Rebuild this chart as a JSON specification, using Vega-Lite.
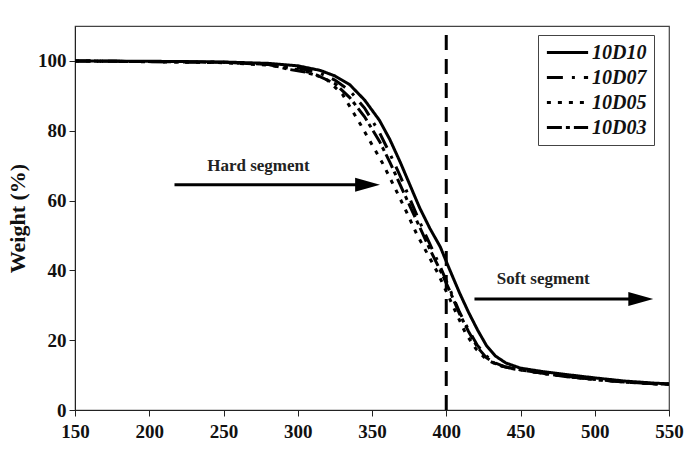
{
  "$schema": "https://vega.github.io/schema/vega-lite/v6.json",
  "width": 594,
  "height": 384,
  "autosize": "none",
  "padding": {"left": 75, "top": 26, "right": 23, "bottom": 39},
  "background": "white",
  "config": {
    "view": {"stroke": "#444", "strokeWidth": 1.2},
    "font": "Liberation Serif",
    "axis": {
      "labelFont": "Liberation Serif", "labelFontWeight": "bold", "labelFontSize": 19, "labelColor": "#111",
      "titleFont": "Liberation Serif", "titleFontWeight": "bold", "titleFontSize": 22, "titleColor": "#111",
      "domainColor": "#222", "tickColor": "#222", "grid": false
    }
  },
  "datasets": {
    "curves": [
      {"s": "10D10", "x": 150, "y": 100}, {"s": "10D10", "x": 200, "y": 99.9}, {"s": "10D10", "x": 250, "y": 99.7}, {"s": "10D10", "x": 280, "y": 99.3}, {"s": "10D10", "x": 300, "y": 98.6}, {"s": "10D10", "x": 315, "y": 97.3}, {"s": "10D10", "x": 325, "y": 95.7}, {"s": "10D10", "x": 335, "y": 93.2}, {"s": "10D10", "x": 345, "y": 88.8}, {"s": "10D10", "x": 355, "y": 83}, {"s": "10D10", "x": 362, "y": 77.5}, {"s": "10D10", "x": 369, "y": 71}, {"s": "10D10", "x": 376, "y": 64}, {"s": "10D10", "x": 382, "y": 58}, {"s": "10D10", "x": 389, "y": 52}, {"s": "10D10", "x": 396, "y": 46.7}, {"s": "10D10", "x": 402, "y": 40.5}, {"s": "10D10", "x": 409, "y": 33.5}, {"s": "10D10", "x": 415, "y": 28}, {"s": "10D10", "x": 421, "y": 23}, {"s": "10D10", "x": 427, "y": 18.5}, {"s": "10D10", "x": 433, "y": 15.5}, {"s": "10D10", "x": 440, "y": 13.5}, {"s": "10D10", "x": 450, "y": 12}, {"s": "10D10", "x": 465, "y": 11}, {"s": "10D10", "x": 480, "y": 10.2}, {"s": "10D10", "x": 500, "y": 9.2}, {"s": "10D10", "x": 520, "y": 8.3}, {"s": "10D10", "x": 540, "y": 7.7}, {"s": "10D10", "x": 550, "y": 7.5},
      {"s": "10D07", "x": 150, "y": 100}, {"s": "10D07", "x": 250, "y": 99.6}, {"s": "10D07", "x": 280, "y": 99}, {"s": "10D07", "x": 300, "y": 98}, {"s": "10D07", "x": 315, "y": 96.5}, {"s": "10D07", "x": 325, "y": 94.5}, {"s": "10D07", "x": 335, "y": 91.5}, {"s": "10D07", "x": 345, "y": 86.5}, {"s": "10D07", "x": 355, "y": 79.5}, {"s": "10D07", "x": 362, "y": 73.5}, {"s": "10D07", "x": 369, "y": 67}, {"s": "10D07", "x": 376, "y": 60}, {"s": "10D07", "x": 382, "y": 54}, {"s": "10D07", "x": 389, "y": 47.5}, {"s": "10D07", "x": 396, "y": 41}, {"s": "10D07", "x": 402, "y": 35}, {"s": "10D07", "x": 409, "y": 28}, {"s": "10D07", "x": 415, "y": 23}, {"s": "10D07", "x": 421, "y": 18.5}, {"s": "10D07", "x": 427, "y": 15.5}, {"s": "10D07", "x": 433, "y": 13.5}, {"s": "10D07", "x": 440, "y": 12.3}, {"s": "10D07", "x": 450, "y": 11.5}, {"s": "10D07", "x": 465, "y": 10.5}, {"s": "10D07", "x": 480, "y": 9.7}, {"s": "10D07", "x": 500, "y": 8.8}, {"s": "10D07", "x": 520, "y": 8.0}, {"s": "10D07", "x": 540, "y": 7.5}, {"s": "10D07", "x": 550, "y": 7.4},
      {"s": "10D05", "x": 150, "y": 100}, {"s": "10D05", "x": 250, "y": 99.5}, {"s": "10D05", "x": 280, "y": 98.8}, {"s": "10D05", "x": 300, "y": 97.5}, {"s": "10D05", "x": 310, "y": 96.5}, {"s": "10D05", "x": 320, "y": 94.5}, {"s": "10D05", "x": 330, "y": 90.5}, {"s": "10D05", "x": 342, "y": 82}, {"s": "10D05", "x": 350, "y": 76}, {"s": "10D05", "x": 357, "y": 70.8}, {"s": "10D05", "x": 365, "y": 64}, {"s": "10D05", "x": 373.5, "y": 56.5}, {"s": "10D05", "x": 380, "y": 50.5}, {"s": "10D05", "x": 387, "y": 45}, {"s": "10D05", "x": 394, "y": 39.5}, {"s": "10D05", "x": 400, "y": 34}, {"s": "10D05", "x": 407, "y": 27.5}, {"s": "10D05", "x": 413, "y": 22}, {"s": "10D05", "x": 420, "y": 17.5}, {"s": "10D05", "x": 427, "y": 14.5}, {"s": "10D05", "x": 435, "y": 12.8}, {"s": "10D05", "x": 445, "y": 11.8}, {"s": "10D05", "x": 460, "y": 10.8}, {"s": "10D05", "x": 480, "y": 9.6}, {"s": "10D05", "x": 500, "y": 8.7}, {"s": "10D05", "x": 520, "y": 8.0}, {"s": "10D05", "x": 540, "y": 7.5}, {"s": "10D05", "x": 550, "y": 7.4},
      {"s": "10D03", "x": 150, "y": 100}, {"s": "10D03", "x": 250, "y": 99.6}, {"s": "10D03", "x": 280, "y": 99}, {"s": "10D03", "x": 295, "y": 97.5}, {"s": "10D03", "x": 305, "y": 96.8}, {"s": "10D03", "x": 315, "y": 95.5}, {"s": "10D03", "x": 325, "y": 93.5}, {"s": "10D03", "x": 335, "y": 89.5}, {"s": "10D03", "x": 345, "y": 84}, {"s": "10D03", "x": 355, "y": 77}, {"s": "10D03", "x": 362, "y": 71}, {"s": "10D03", "x": 369, "y": 64.5}, {"s": "10D03", "x": 376, "y": 58}, {"s": "10D03", "x": 382, "y": 52.5}, {"s": "10D03", "x": 389, "y": 46}, {"s": "10D03", "x": 396, "y": 40}, {"s": "10D03", "x": 402, "y": 34.5}, {"s": "10D03", "x": 409, "y": 27.5}, {"s": "10D03", "x": 415, "y": 22.5}, {"s": "10D03", "x": 421, "y": 18}, {"s": "10D03", "x": 427, "y": 15}, {"s": "10D03", "x": 433, "y": 13.3}, {"s": "10D03", "x": 440, "y": 12.3}, {"s": "10D03", "x": 450, "y": 11.5}, {"s": "10D03", "x": 465, "y": 10.5}, {"s": "10D03", "x": 480, "y": 9.6}, {"s": "10D03", "x": 500, "y": 8.8}, {"s": "10D03", "x": 520, "y": 8.0}, {"s": "10D03", "x": 540, "y": 7.5}, {"s": "10D03", "x": 550, "y": 7.4}
    ],
    "arrows": [
      {"x": 217, "x2": 348, "y": 64.5, "hx": 347},
      {"x": 419, "x2": 532, "y": 31.8, "hx": 531}
    ],
    "labels": [
      {"x": 239, "y": 70, "t": "Hard segment"},
      {"x": 434, "y": 37.5, "t": "Soft segment"}
    ],
    "vline": [{"x": 400, "y": 0, "y2": 110}]
  },
  "layer": [
    {
      "data": {"name": "curves"},
      "mark": {"type": "line", "color": "black", "strokeWidth": 3, "clip": true},
      "encoding": {
        "x": {"field": "x", "type": "quantitative", "scale": {"domain": [150, 550], "nice": false, "zero": false},
          "axis": {"title": null, "values": [150,175,200,225,250,275,300,325,350,375,400,425,450,475,500,525,550],
            "labelExpr": "datum.value % 50 === 0 ? datum.label : ''",
            "tickSize": {"condition": {"test": "datum.value % 50 !== 0", "value": 3}, "value": 6},
            "labelPadding": 6, "labelFlush": false}},
        "y": {"field": "y", "type": "quantitative", "scale": {"domain": [0, 110], "nice": false},
          "axis": {"title": "Weight (%)", "values": [0,10,20,30,40,50,60,70,80,90,100],
            "labelExpr": "datum.value % 20 === 0 ? datum.label : ''",
            "tickSize": {"condition": {"test": "datum.value % 20 !== 0", "value": 3}, "value": 6},
            "labelPadding": 3, "titlePadding": 8}},
        "strokeDash": {"field": "s", "type": "nominal",
          "scale": {"domain": ["10D10", "10D07", "10D05", "10D03"], "range": [[1, 0], [16, 9, 3, 9], [4, 7], [15, 4, 4, 4]]},
          "legend": {"title": null, "orient": "none", "legendX": 463, "legendY": 9,
            "strokeColor": "#444", "padding": 7, "symbolType": "stroke", "symbolSize": 1700,
            "symbolStrokeColor": "black", "symbolStrokeWidth": 3, "clipHeight": 21, "rowPadding": 4,
            "labelFont": "Liberation Serif", "labelFontSize": 20, "labelFontStyle": "italic", "labelFontWeight": "bold",
            "labelColor": "#111", "labelOffset": 2, "symbolOffset": 0}},
        "detail": {"field": "s"}
      }
    },
    {
      "data": {"name": "vline"},
      "mark": {"type": "rule", "color": "black", "strokeWidth": 3, "strokeDash": [15, 9]},
      "encoding": {"x": {"field": "x", "type": "quantitative"}, "y": {"field": "y", "type": "quantitative"}, "y2": {"field": "y2"}}
    },
    {
      "data": {"name": "arrows"},
      "mark": {"type": "rule", "color": "black", "strokeWidth": 3},
      "encoding": {"x": {"field": "x", "type": "quantitative"}, "x2": {"field": "x2"}, "y": {"field": "y", "type": "quantitative"}}
    },
    {
      "data": {"name": "arrows"},
      "mark": {"type": "point", "shape": "M-1,-0.56L1,0L-1,0.56Z", "filled": true, "color": "black", "size": 620, "opacity": 1},
      "encoding": {"x": {"field": "hx", "type": "quantitative"}, "y": {"field": "y", "type": "quantitative"}}
    },
    {
      "data": {"name": "labels"},
      "mark": {"type": "text", "font": "Liberation Serif", "fontWeight": "bold", "fontSize": 17, "color": "#222", "align": "left"},
      "encoding": {"x": {"field": "x", "type": "quantitative"}, "y": {"field": "y", "type": "quantitative"}, "text": {"field": "t"}}
    }
  ]
}
